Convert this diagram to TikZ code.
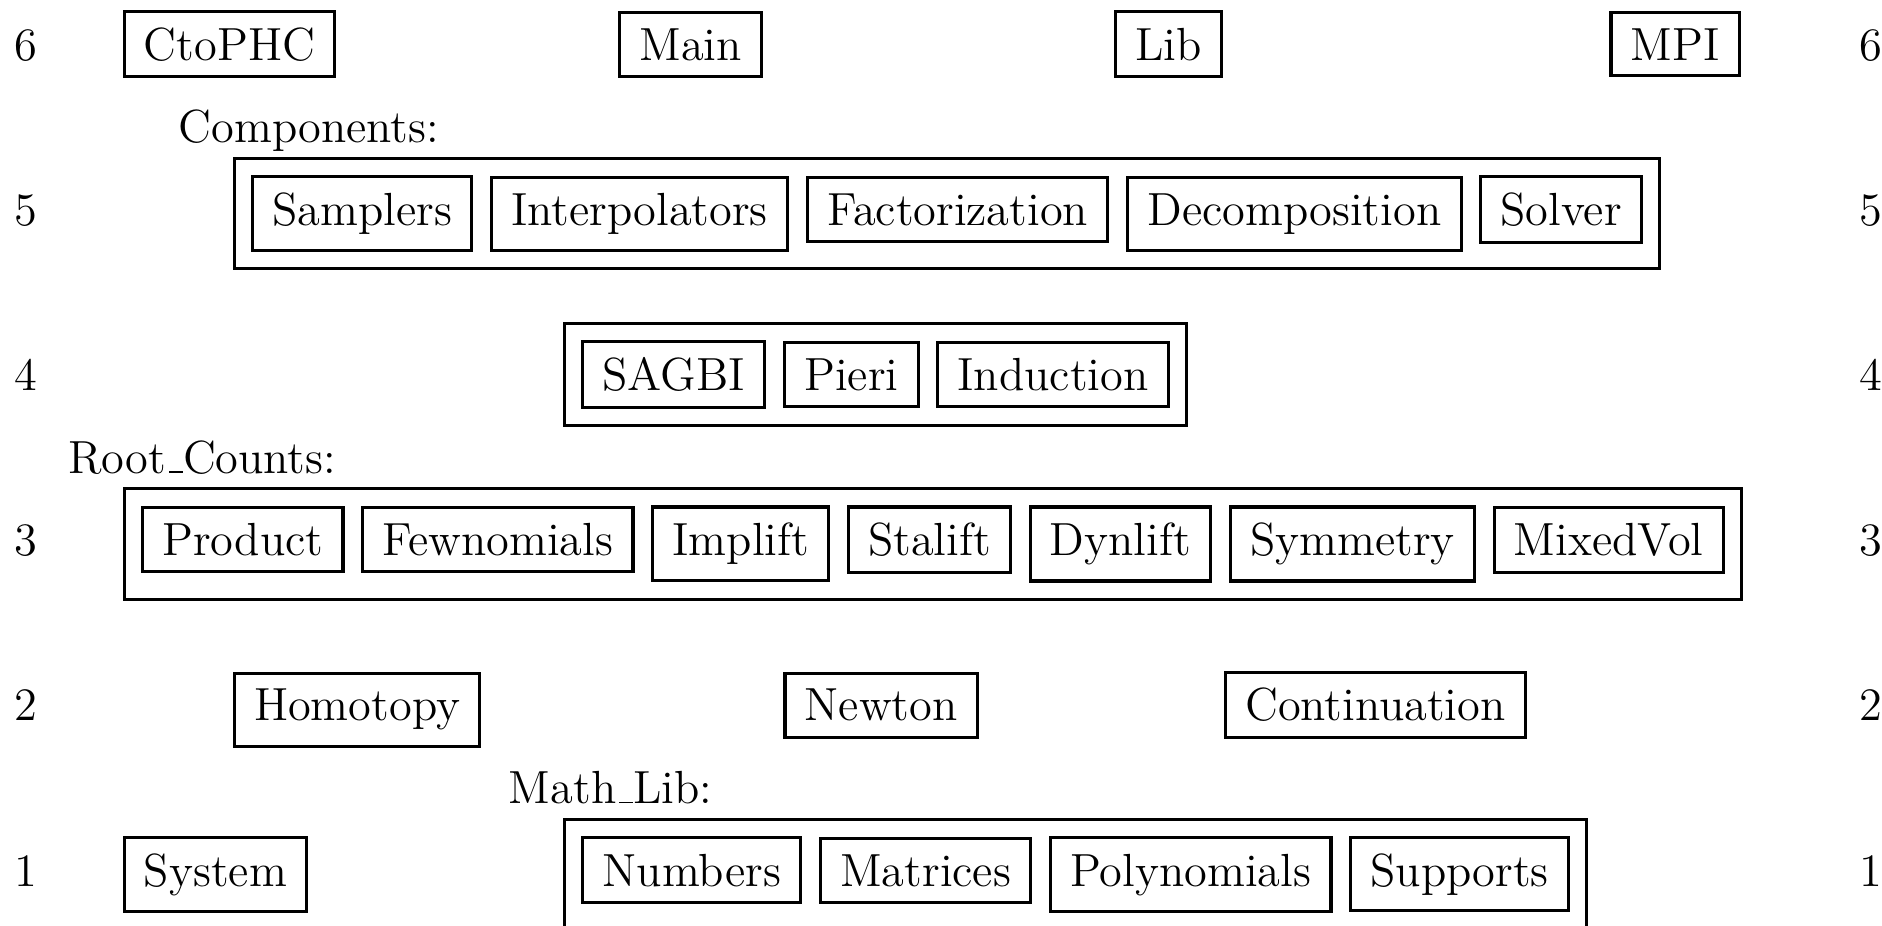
\documentclass[12pt,tikz,border=0pt]{standalone}
\usepackage{tikz}
\usetikzlibrary{positioning}
\usetikzlibrary{fit}
\newcommand{\uscore}{\leavevmode\kern.06em\vbox{\hrule width.3em}}

\begin{document}
\begin{tikzpicture}[
		module/.style={draw,line width=0.8pt,inner xsep=5.1pt,inner ysep=4.1pt,anchor=base west},
		group/.style={draw,line width=0.8pt,inner sep=4.3pt},
		level/.style={anchor=base west,inner sep=0pt},
		node distance=4.3pt]
				\useasboundingbox (-1.114,1.137) rectangle (15.975,9.545);

				%Levels
				\foreach \r in {1,...,6} {
					\node[level] (left\r) 	at (-0.99,1.5*\r) {\r};
					\node[level] (right\r) 	at (15.76,1.5*\r) {\r};
				}

				%Level 6
				\node[module] (ctophc) 	at (0,9) 	{CtoPHC};
				\node[module] (main) 	at (4.5,9) 	{Main};
				\node[module] (lib) 	at (9,9) 	{Lib};
				\node[module] (mpi) 	at (13.5,9) 	{MPI};

				%Level 5
				\node[level] (complabel) at (0.5,8.25) {Components:};
				\node[module] (samplers) at ([xshift=4.7pt]1,7.5) {Samplers};
				\node[module,base right=of samplers] (interpolators) {Interpolators};
				\node[module,base right=of interpolators] (factorization) {Factorization};
				\node[module,base right=of factorization] (decomposition) {Decomposition};
				\node[module,base right=of decomposition] (solver) {Solver};
				\node[group,fit=(samplers)(interpolators)(factorization)(decomposition)(solver)] (components) {};

				%Level 4
				\node[module] (sagbi) at ([xshift=4.7pt]4,6) {SAGBI};
				\node[module,base right=of sagbi] (pieri) {Pieri};
				\node[module,base right=of pieri] (induction) {Induction};
				\node[group,fit=(sagbi)(pieri)(induction)] (schubert) {};

				%Level 3
				\node[level] (rootlabel) at (-0.5,5.25) {Root\uscore Counts:};
				\node[module] (product) at ([xshift=4.7pt]0,4.5) {Product};
				\node[module,base right=of product] (fewnomials) {Fewnomials};
				\node[module,base right=of fewnomials] (implift) {Implift};
				\node[module,base right=of implift] (stalift) {Stalift};
				\node[module,base right=of stalift] (dynlift) {Dynlift};
				\node[module,base right=of dynlift] (symmetry) {Symmetry};
				\node[module,base right=of symmetry] (mixedvol) {MixedVol};
				\node[group,fit=(product)(fewnomials)(implift)(stalift)(dynlift)(symmetry)(mixedvol)] (rootcounts) {};

				%Level 2
				\node[module] (homotopy) 	at (1,3) 	{Homotopy};
				\node[module] (newton) 		at (6,3) 	{Newton};
				\node[module] (continuation) 	at (10,3) 	{Continuation};

				%Level 1
				\node[module] (system) at (0,1.5) {System};
				\node[level] (mathlabel) at (3.5,2.25) {Math\uscore Lib:};
				\node[module] (numbers) at ([xshift=4.7pt]4,1.5) {Numbers};
				\node[module,base right=of numbers] (matrices) {Matrices};
				\node[module,base right=of matrices] (polynomials) {Polynomials};
				\node[module,base right=of polynomials] (supports) {Supports};
				\node[group,fit=(numbers)(matrices)(polynomials)(supports)] (mathlib) {};

		\end{tikzpicture}
\end{document}
